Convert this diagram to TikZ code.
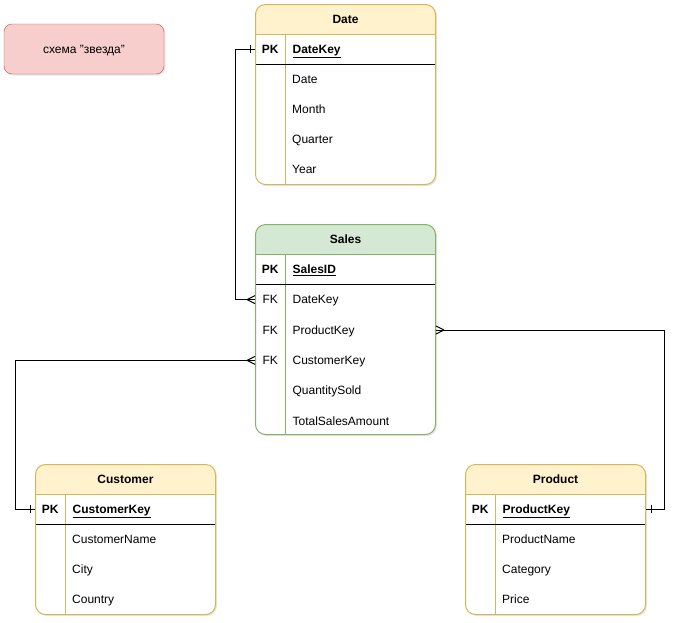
\documentclass[tikz,border=0pt]{standalone}
\usepackage{fontspec}
\setmainfont{Liberation Sans}
\usepackage{tikz}
\usetikzlibrary{positioning, calc, shadows, decorations.markings}

\definecolor{yellowfill}{HTML}{FFF2CC}
\definecolor{yellowline}{HTML}{D6B656}
\definecolor{greenfill}{HTML}{D5E8D4}
\definecolor{greenline}{HTML}{82B366}
\definecolor{redfill}{HTML}{F8CECC}
\definecolor{redline}{HTML}{B85450}

\begin{document}
\begin{tikzpicture}[
    x=1pt, y=-1pt,
    every node/.style={font=\fontsize{12}{14}\selectfont, inner sep=0pt, text height=10pt, text depth=2pt},
    shade/.style={drop shadow={shadow xshift=1.5pt, shadow yshift=-1.5pt, opacity=0.2, fill=black!50}},
    entity/.style={draw=#1line, fill=white, line width=1pt, rounded corners=10pt, minimum width=180pt, shade,
        path picture={
            \fill[#1fill, sharp corners] (path picture bounding box.north west) rectangle ([yshift=-30pt]path picture bounding box.north east);
            \draw[#1line, line width=1pt, sharp corners] ([yshift=-30pt]path picture bounding box.north west) -- ([yshift=-30pt]path picture bounding box.north east);
            \draw[#1line, line width=1pt, sharp corners] ([xshift=30pt, yshift=-30pt]path picture bounding box.north west) -- ([xshift=30pt]path picture bounding box.south west);
            \draw[black, line width=1pt, sharp corners] ([yshift=-60pt]path picture bounding box.north west) -- ([yshift=-60pt]path picture bounding box.north east);}},
    bold/.style={font=\fontsize{12}{14}\selectfont\bfseries},
    keycell/.style={minimum width=30pt, minimum height=30pt},
    relation/.style={line width=1pt, postaction=decorate, decoration={markings,
        mark=at position 0 with {\draw[line width=1pt] (8pt,0) -- (0,4pt) (8pt,0) -- (0,-4pt);},
        mark=at position -5pt with {\draw[line width=1pt] (0,-4pt) -- (0,4pt);}}}
]
\useasboundingbox (0,0) rectangle (674,622);

% Note
\node[draw=redline, fill=redfill, rounded corners=8pt, minimum width=160pt, minimum height=50pt, shade] (note) at (84,49) {схема "звезда"};

% Date
\node[entity=yellow, minimum height=180pt, anchor=north west] (date) at (255,4) {};
\node[bold] at ([yshift=-15pt]date.north) {Date};
\node[keycell, bold, anchor=north west] (datepk) at ([yshift=-30pt]date.north west) {PK};
\node[bold, right=7pt of datepk] {\underline{DateKey}};
\foreach \f [count=\i] in {Date, Month, Quarter, Year}
    \node[anchor=west] at ([xshift=37pt, yshift={-45pt-30pt*\i}]date.north west) {\f};

% Sales
\node[entity=green, minimum height=210pt, anchor=north west] (sales) at (255,224) {};
\node[bold] at ([yshift=-15pt]sales.north) {Sales};
\node[keycell, bold, anchor=north west] (salespk) at ([yshift=-30pt]sales.north west) {PK};
\node[bold, right=7pt of salespk] {\underline{SalesID}};
\node[keycell, below=0pt of salespk] (salesfk1) {FK};
\node[right=7pt of salesfk1] {DateKey};
\node[keycell, below=0pt of salesfk1] (salesfk2) {FK};
\node[right=7pt of salesfk2] {ProductKey};
\node[keycell, below=0pt of salesfk2] (salesfk3) {FK};
\node[right=7pt of salesfk3] {CustomerKey};
\node[keycell, below=0pt of salesfk3] (salesqty) {};
\node[right=7pt of salesqty] {QuantitySold};
\node[keycell, below=0pt of salesqty] (salesamt) {};
\node[right=7pt of salesamt] {TotalSalesAmount};

% Customer
\node[entity=yellow, minimum height=150pt, anchor=north west] (cust) at (35,464) {};
\node[bold] at ([yshift=-15pt]cust.north) {Customer};
\node[keycell, bold, anchor=north west] (custpk) at ([yshift=-30pt]cust.north west) {PK};
\node[bold, right=7pt of custpk] {\underline{CustomerKey}};
\foreach \f [count=\i] in {CustomerName, City, Country}
    \node[anchor=west] at ([xshift=37pt, yshift={-45pt-30pt*\i}]cust.north west) {\f};

% Product
\node[entity=yellow, minimum height=150pt, anchor=north west] (prod) at (465,464) {};
\node[bold] at ([yshift=-15pt]prod.north) {Product};
\node[keycell, bold, anchor=north west] (prodpk) at ([yshift=-30pt]prod.north west) {PK};
\node[bold, right=7pt of prodpk] {\underline{ProductKey}};
\foreach \f [count=\i] in {ProductName, Category, Price}
    \node[anchor=west] at ([xshift=37pt, yshift={-45pt-30pt*\i}]prod.north west) {\f};

% Relations (many at Sales, one at the dimension)
\draw[relation] (salesfk1.west) -- ++(-20pt,0) |- (datepk.west);
\draw[relation] (salesfk3.west) -- ++(-240pt,0) |- (custpk.west);
\draw[relation] (sales.east |- salesfk2) -- ++(228pt,0) |- (prod.east |- prodpk);

\end{tikzpicture}
\end{document}
